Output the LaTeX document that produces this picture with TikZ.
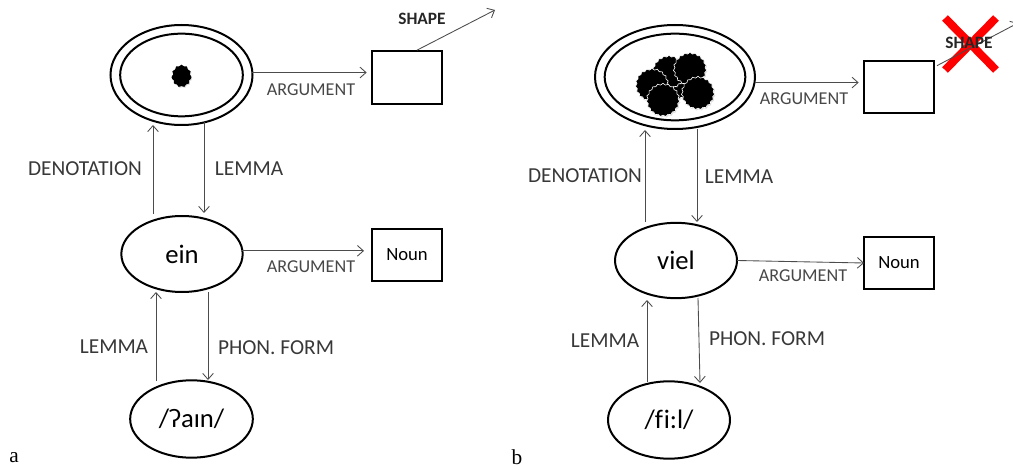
\documentclass[tikz,border=0pt]{standalone}
\usepackage{fontspec}
\setmainfont{Carlito}
\newfontfamily\serifl{Liberation Serif}
\usetikzlibrary{arrows.meta,calc,shadows,shapes.geometric,shapes.symbols}
\tikzset{
  x=0.75pt,y=-0.75pt,
  lbl/.style={inner sep=0,yshift=-0.75pt,text=black!78,font=\fontsize{16pt}{18pt}\selectfont},
  arglbl/.style={inner sep=0,yshift=-0.75pt,text=black!72,font=\fontsize{13.6pt}{15pt}\selectfont},
  shapelbl/.style={inner sep=0,text=black!85,font=\fontsize{13pt}{15pt}\selectfont\bfseries},
  word/.style={font=\fontsize{20pt}{22pt}\selectfont},
  nounlbl/.style={font=\fontsize{14pt}{16pt}\selectfont},
  oval/.style={ellipse,draw,line width=1.5pt,inner sep=0,outer sep=0,minimum width=#1},
  boxn/.style={rectangle,draw,line width=1.5pt,inner sep=0,outer sep=0,minimum width=52.5pt,minimum height=39.5pt},
  conn/.style={draw=black!70,line width=0.65pt,-{Straight Barb[length=4.5pt,width=8pt,line width=0.65pt]}},
  puff/.style={cloud,cloud puffs=19,cloud puff arc=140,aspect=1.05,fill=black,draw=white,line width=0.45pt,inner sep=0,outer sep=0,minimum width=#1,minimum height=#1,drop shadow={opacity=.25,shadow xshift=.6pt,shadow yshift=-.8pt}},
  sidelabel/.style={inner sep=0,font=\serifl\fontsize{16pt}{18pt}\selectfont},
}
\begin{document}
\begin{tikzpicture}
\useasboundingbox (0,0) rectangle (1013,470);
\clip (0,0) rectangle (1013,470);
% ---------- panel a ----------
\node[oval=106.5pt,minimum height=75pt] (aouter) at (181.5,75) {};
\node[oval=92pt,minimum height=62pt] (ainner) at (181.5,75) {};
\node[puff=15pt,draw=none,aspect=0.85,cloud puffs=11,minimum height=17pt] (ablob) at (181.5,76) {};
\node[boxn] (abox) at (407,77.5) {};
\node[oval=91pt,minimum height=57pt,word] (aein) at (182,254) {ein};
\node[boxn,nounlbl] (anoun) at (407,255) {Noun};
\node[oval=92pt,minimum height=58pt,word] (aphon) at (191.5,419) {/ʔaɪn/};
\coordinate (ashapeend) at (495,10);
\draw[conn,shorten >=4pt] (aouter.2) -- (abox.west |- aouter.2);
\draw[conn] (abox.north) ++(10,-1) coordinate (ashapest) -- (ashapeend);
\draw[conn] ($(aein)+(-29,-40)$) -- ($(aouter)+(-28.5,50)$);
\draw[conn] ($(aouter)+(22.5,47)$) -- ($(aein)+(22,-41)$);
\draw[conn,shorten >=6pt] (aein.3) -- (anoun.west |- aein.3);
\draw[conn] ($(aphon)+(-35.5,-38)$) -- ($(aein)+(-26,38)$);
\draw[conn] ($(aein)+(26,38)$) -- ($(aphon)+(16.5,-39)$);
\node[arglbl] (la1) at (311,89) {ARGUMENT};
\node[arglbl] (la2) at (311,266) {ARGUMENT};
\node[lbl] (la3) at (85,168) {DENOTATION};
\node[lbl] (la4) at (249,168) {LEMMA};
\node[lbl] (la5) at (114,346) {LEMMA};
\node[lbl] (la6) at (276,347) {PHON. FORM};
\node[shapelbl] (la7) at (422,19) {SHAPE};
\node[sidelabel] (sa) at (14,458) {a};
% ---------- panel b ----------
\node[oval=120pt,minimum height=78pt] (bouter) at (675,77) {};
\node[oval=105.5pt,minimum height=65pt] (binner) at (675,77) {};
\node[boxn] (bbox) at (899,87) {};
\node[oval=91.5pt,minimum height=56.5pt,word] (bviel) at (676,260.5) {viel};
\node[boxn,nounlbl] (bnoun) at (899,263) {Noun};
\node[oval=91.5pt,minimum height=58pt,word] (bphon) at (669,420) {/f\kern0.6pt i:l/};
% cloud cluster
\node[puff=20pt] (bb5) at (677,86) {};
\node[puff=25pt] (bb1) at (669,72) {};
\node[puff=25pt] (bb2) at (690,69) {};
\node[puff=25pt] (bb3) at (652,85) {};
\node[puff=25pt] (bb4) at (698,93) {};
\node[puff=25pt] (bb6) at (663,100) {};
% red cross
\coordinate (xa) at (945,18); \coordinate (xb) at (996,70);
\coordinate (xc) at (996,18); \coordinate (xd) at (945,70);
\draw[red,line width=6pt] (xa) -- (xb) (xc) -- (xd);
\coordinate (bshapeend) at (1018,23);
\draw[conn] (bbox.north east) ++(3,5) coordinate (bshapest) -- (bshapeend);
\node[shapelbl] (lb7) at (969,43) {SHAPE};
\draw[conn,shorten >=4pt] (bouter.356) -- (bbox.west |- bouter.356);
\draw[conn] ($(bviel)+(-31,-38.5)$) -- ($(bouter)+(-30,53)$);
\draw[conn] ($(bouter)+(22,52)$) -- ($(bviel)+(21,-38.5)$);
\draw[conn] (bviel.0) -- (bnoun.west);
\draw[conn] ($(bphon)+(-22,-38)$) -- ($(bviel)+(-29,39.5)$);
\draw[conn] ($(bviel)+(22,37.5)$) -- ($(bphon)+(31,-37)$);
\node[arglbl] (lb1) at (804,98) {ARGUMENT};
\node[arglbl] (lb2) at (803,275) {ARGUMENT};
\node[lbl] (lb3) at (585,175) {DENOTATION};
\node[lbl] (lb4) at (739,176) {LEMMA};
\node[lbl] (lb5) at (605,340) {LEMMA};
\node[lbl] (lb6) at (767,338) {PHON. FORM};
\node[sidelabel] (sb) at (517,457) {b};
\end{tikzpicture}
\end{document}
